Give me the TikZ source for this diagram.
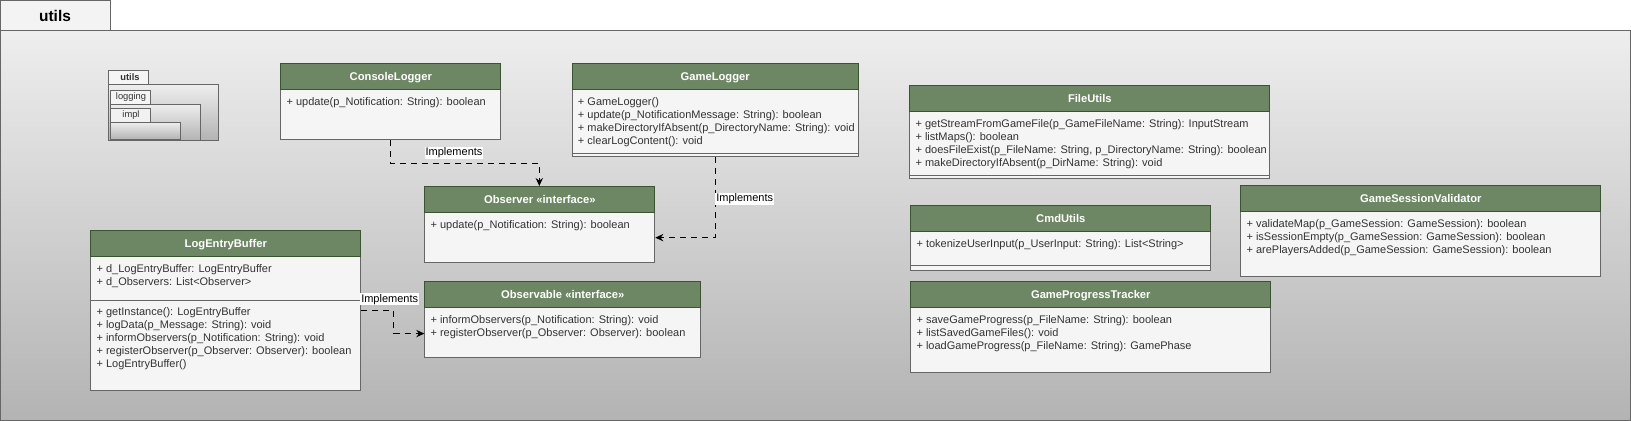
\documentclass[tikz,border=0pt]{standalone}
\usepackage{fontspec}
\setmainfont{Liberation Sans}
\usetikzlibrary{arrows.meta,calc}
\definecolor{hdr}{HTML}{6D8764}
\definecolor{hdrline}{HTML}{3A5431}
\definecolor{bodyfill}{HTML}{F5F5F5}
\definecolor{bline}{HTML}{666666}
\definecolor{txt}{HTML}{333333}
\definecolor{pkgtop}{HTML}{EEEEEE}
\definecolor{pkgbot}{HTML}{B3B3B3}
\tikzset{
  classbox/.style={draw=bline, fill=bodyfill, line width=0.75pt, inner sep=0pt, rectangle},
  classhead/.style={draw=hdrline, fill=hdr, line width=0.75pt, inner sep=0pt, rectangle, text=white, text height=6.1pt, text depth=0pt, font=\fontsize{8.4}{10}\selectfont\bfseries},
  bodytext/.style={inner sep=0pt, align=left, text=txt, font=\fontsize{8.25}{9.75}\selectfont, anchor=north west},
  sepline/.style={draw=bline, line width=0.75pt},
  impl/.style={draw=black, line width=0.75pt, dash pattern=on 4.5pt off 3.75pt, -{Stealth[length=6pt,width=5.5pt]}},
  lbl/.style={fill=white, inner sep=0.6pt, text=black, font=\fontsize{8.25}{9}\selectfont},
  pkgline/.style={draw=bline, line width=0.75pt},
  icontext/.style={inner sep=0pt, text=txt, font=\fontsize{7}{8}\selectfont}
}
\newcommand\umlcls[6]{%
  \node[classbox, anchor=north west, minimum width=#4*0.75pt, minimum height=#5*0.75pt] (#1) at (#2,#3) {};
  \node[classhead, anchor=north west, minimum width=#4*0.75pt, minimum height=26*0.75pt] (#1-h) at (#2,#3) {#6};
}
\begin{document}
\begin{tikzpicture}[x=0.75pt,y=-0.75pt]
\useasboundingbox (0,0) rectangle (1631,421);
% package frame
\shade[top color=pkgtop, bottom color=pkgbot] (0.5,30) rectangle (1630,420.5);
\draw[pkgline] (0.5,30) rectangle (1630,420.5);
\draw[pkgline, fill=pkgtop!70!white] (0.5,0.5) rectangle (110,30);
\node[inner sep=0pt, font=\fontsize{11.6}{13}\selectfont\bfseries] (pkgtitle) at (55,15.5) {utils};
% package icon
\shade[top color=pkgtop, bottom color=pkgbot] (108.3,84) rectangle (218.3,140);
\draw[pkgline] (108.3,84) rectangle (218.3,140);
\draw[pkgline, fill=pkgtop!60!white] (108.3,70) rectangle (148.7,84);
\shade[top color=pkgtop, bottom color=pkgbot] (110.3,104) rectangle (200.3,140);
\draw[pkgline] (110.3,104) rectangle (200.3,140);
\draw[pkgline, fill=pkgtop!60!white] (110.3,90) rectangle (150.7,104);
\shade[top color=pkgtop, bottom color=pkgbot] (110.3,122) rectangle (180.7,139.3);
\draw[pkgline] (110.3,122) rectangle (180.7,139.3);
\draw[pkgline, fill=pkgtop!80!white] (110.3,108) rectangle (150.7,122);
\node[icontext, font=\fontsize{7}{8}\selectfont\bfseries] (ic1) at (130,77.3) {utils};
\node[icontext] (ic2) at (131,97) {logging};
\node[icontext] (ic3) at (131,115.3) {impl};
% classes
\umlcls{conlog}{280.3}{63.3}{220}{75.7}{ConsoleLogger}
\node[bodytext] (conlog-b) at ($(conlog-h.south west)+(6,7)$) {+ update(p\_Notification: String): boolean};

\umlcls{glog}{571.7}{63.3}{286}{92.7}{GameLogger}
\draw[sepline] ($(glog.north west)+(0,90)$) -- ($(glog.north east)+(0,90)$);
\node[bodytext] (glog-b) at ($(glog-h.south west)+(6,7)$) {+ GameLogger()\\+ update(p\_NotificationMessage: String): boolean\\+ makeDirectoryIfAbsent(p\_DirectoryName: String): void\\+ clearLogContent(): void};

\umlcls{obs}{424.3}{186}{230}{76.3}{Observer «interface»}
\node[bodytext] (obs-b) at ($(obs-h.south west)+(6,7)$) {+ update(p\_Notification: String): boolean};

\umlcls{leb}{90.3}{230.3}{270}{160}{LogEntryBuffer}
\draw[sepline] ($(leb.north west)+(0,70)$) -- ($(leb.north east)+(0,70)$);
\node[bodytext] (leb-a) at ($(leb-h.south west)+(6,7)$) {+ d\_LogEntryBuffer: LogEntryBuffer\\+ d\_Observers: List<Observer>};
\node[bodytext] (leb-m) at ($(leb.north west)+(6,77)$) {+ getInstance(): LogEntryBuffer\\+ logData(p\_Message: String): void\\+ informObservers(p\_Notification: String): void\\+ registerObserver(p\_Observer: Observer): boolean\\+ LogEntryBuffer()};

\umlcls{obsl}{424.3}{281}{276}{76.3}{Observable «interface»}
\node[bodytext] (obsl-b) at ($(obsl-h.south west)+(6,7)$) {+ informObservers(p\_Notification: String): void\\+ registerObserver(p\_Observer: Observer): boolean};

\umlcls{fu}{909.3}{85.3}{360}{93}{FileUtils}
\draw[sepline] ($(fu.north west)+(0,90.4)$) -- ($(fu.north east)+(0,90.4)$);
\node[bodytext] (fu-b) at ($(fu-h.south west)+(6,7)$) {+ getStreamFromGameFile(p\_GameFileName: String): InputStream\\+ listMaps(): boolean\\+ doesFileExist(p\_FileName: String, p\_DirectoryName: String): boolean\\+ makeDirectoryIfAbsent(p\_DirName: String): void};

\umlcls{cu}{910.3}{205.3}{300}{65}{CmdUtils}
\draw[sepline] ($(cu.north west)+(0,60)$) -- ($(cu.north east)+(0,60)$);
\node[bodytext] (cu-b) at ($(cu-h.south west)+(6,7)$) {+ tokenizeUserInput(p\_UserInput: String): List<String>};

\umlcls{gpt}{910.3}{281.3}{360}{90.4}{GameProgressTracker}
\node[bodytext] (gpt-b) at ($(gpt-h.south west)+(6,7)$) {+ saveGameProgress(p\_FileName: String): boolean\\+ listSavedGameFiles(): void\\+ loadGameProgress(p\_FileName: String): GamePhase};

\umlcls{gsv}{1240.3}{185.3}{360}{90.4}{GameSessionValidator}
\node[bodytext] (gsv-b) at ($(gsv-h.south west)+(6,7)$) {+ validateMap(p\_GameSession: GameSession): boolean\\+ isSessionEmpty(p\_GameSession: GameSession): boolean\\+ arePlayersAdded(p\_GameSession: GameSession): boolean};

% connectors
\draw[impl] ($(conlog.south west)+(110,0)$) -- ++(0,23.3) -| ($(obs.north west)+(115,0)$);
\draw[impl] (glog.south) |- ($(obs.east)+(0,13)$);
\draw[impl] (leb.east) -- ++(32.4,0) |- ($(obsl.west)+(0,13.9)$);
\node[lbl] (l1) at (454,152.7) {Implements};
\node[lbl] (l2) at (744.7,199) {Implements};
\node[lbl] (l3) at (389.7,299.3) {Implements};
\end{tikzpicture}
\end{document}
